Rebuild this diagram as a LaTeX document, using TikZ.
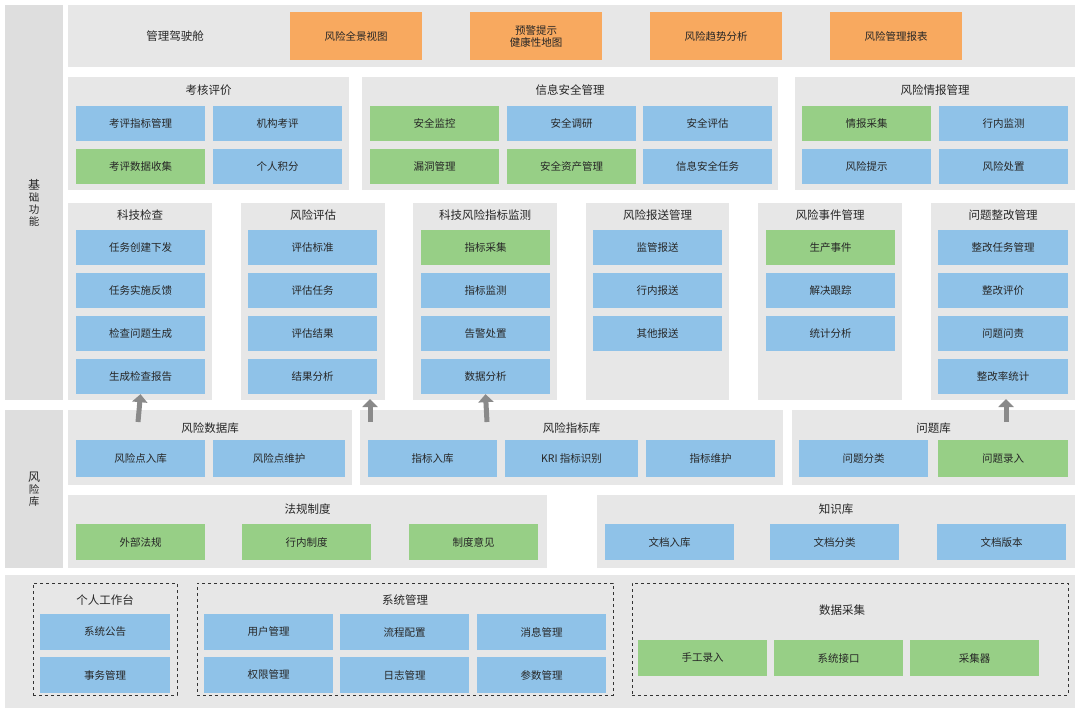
\documentclass[tikz,border=0pt]{standalone}
\usepackage{fontspec}
\setmainfont{Noto Sans CJK SC}
\usetikzlibrary{arrows.meta}
\definecolor{cblue}{HTML}{8FC2E8}
\definecolor{cgreen}{HTML}{97CF86}
\definecolor{corange}{HTML}{F8A95F}
\definecolor{cpanel}{HTML}{E7E7E7}
\definecolor{cband}{HTML}{DEDEDE}
\definecolor{carrow}{HTML}{8A8A8A}
\tikzset{
  box/.style={inner sep=0pt,align=center,font=\fontsize{10.5}{12}\selectfont,text=black!85},
  ttl/.style={font=\fontsize{11.5}{13}\selectfont,text=black!85},
  uparrow/.style={draw=carrow,line width=5pt,-{Triangle[width=15pt,length=8pt]}}
}
% #1 name, #2 x1, #3 y1, #4 x2, #5 y2, #6 color, #7 text
\newcommand{\Bx}[7]{\node[box,fill=#6,minimum width={(#4-#2)*1pt},minimum height={(#5-#3)*1pt}] (#1) at ({(#2+#4)/2},{(#3+#5)/2}) {#7};}
\newcommand{\Pn}[5]{\node[inner sep=0pt,fill=cpanel,minimum width={(#4-#2)*1pt},minimum height={(#5-#3)*1pt}] (#1) at ({(#2+#4)/2},{(#3+#5)/2}) {};}
\begin{document}
\begin{tikzpicture}[x=1pt,y=-1pt]
\useasboundingbox[fill=white] (0,0) rectangle (1080,712);
% bands
\Bx{band1}{5}{5}{63}{400}{cband}{\fontsize{12}{18}\selectfont 基\\础\\功\\能}
\Bx{band2}{5}{410}{63}{568}{cband}{\fontsize{12}{18}\selectfont 风\\险\\库}
\Pn{bottom}{5}{575}{1075}{708}
% top row
\Pn{top}{68}{5}{1075}{67}
\node[ttl] (tcap) at (175,36) {管理驾驶舱};
\Bx{o1}{290}{12}{422}{60}{corange}{风险全景视图}
\Bx{o2}{470}{12}{602}{60}{corange}{预警提示\\健康性地图}
\Bx{o3}{650}{12}{782}{60}{corange}{风险趋势分析}
\Bx{o4}{830}{12}{962}{60}{corange}{风险管理报表}
% row 2
\Pn{p1}{68}{77}{349}{190}\node[ttl] (t1) at (208.5,90) {考核评价};
\Bx{a1}{76}{106}{205}{141}{cblue}{考评指标管理}
\Bx{a2}{213}{106}{342}{141}{cblue}{机构考评}
\Bx{a3}{76}{149}{205}{184}{cgreen}{考评数据收集}
\Bx{a4}{213}{149}{342}{184}{cblue}{个人积分}
\Pn{p2}{362}{77}{778}{190}\node[ttl] (t2) at (570,90) {信息安全管理};
\Bx{b1}{370}{106}{499}{141}{cgreen}{安全监控}
\Bx{b2}{507}{106}{636}{141}{cblue}{安全调研}
\Bx{b3}{643}{106}{772}{141}{cblue}{安全评估}
\Bx{b4}{370}{149}{499}{184}{cgreen}{漏洞管理}
\Bx{b5}{507}{149}{636}{184}{cgreen}{安全资产管理}
\Bx{b6}{643}{149}{772}{184}{cblue}{信息安全任务}
\Pn{p3}{795}{77}{1075}{190}\node[ttl] (t3) at (935,90) {风险情报管理};
\Bx{c1}{802}{106}{931}{141}{cgreen}{情报采集}
\Bx{c2}{939}{106}{1068}{141}{cblue}{行内监测}
\Bx{c3}{802}{149}{931}{184}{cblue}{风险提示}
\Bx{c4}{939}{149}{1068}{184}{cblue}{风险处置}
% row 3
\Pn{q1}{68}{203}{212}{400}\node[ttl] (u1) at (140,215) {科技检查};
\Bx{d1}{76}{230}{205}{265}{cblue}{任务创建下发}
\Bx{d2}{76}{273}{205}{308}{cblue}{任务实施反馈}
\Bx{d3}{76}{316}{205}{351}{cblue}{检查问题生成}
\Bx{d4}{76}{359}{205}{394}{cblue}{生成检查报告}
\Pn{q2}{241}{203}{385}{400}\node[ttl] (u2) at (313,215) {风险评估};
\Bx{e1}{248}{230}{377}{265}{cblue}{评估标准}
\Bx{e2}{248}{273}{377}{308}{cblue}{评估任务}
\Bx{e3}{248}{316}{377}{351}{cblue}{评估结果}
\Bx{e4}{248}{359}{377}{394}{cblue}{结果分析}
\Pn{q3}{413}{203}{557}{400}\node[ttl] (u3) at (485,215) {科技风险指标监测};
\Bx{f1}{421}{230}{550}{265}{cgreen}{指标采集}
\Bx{f2}{421}{273}{550}{308}{cblue}{指标监测}
\Bx{f3}{421}{316}{550}{351}{cblue}{告警处置}
\Bx{f4}{421}{359}{550}{394}{cblue}{数据分析}
\Pn{q4}{586}{203}{729}{400}\node[ttl] (u4) at (657.5,215) {风险报送管理};
\Bx{g1}{593}{230}{722}{265}{cblue}{监管报送}
\Bx{g2}{593}{273}{722}{308}{cblue}{行内报送}
\Bx{g3}{593}{316}{722}{351}{cblue}{其他报送}
\Pn{q5}{758}{203}{902}{400}\node[ttl] (u5) at (830,215) {风险事件管理};
\Bx{h1}{766}{230}{895}{265}{cgreen}{生产事件}
\Bx{h2}{766}{273}{895}{308}{cblue}{解决跟踪}
\Bx{h3}{766}{316}{895}{351}{cblue}{统计分析}
\Pn{q6}{931}{203}{1075}{400}\node[ttl] (u6) at (1003,215) {问题整改管理};
\Bx{i1}{938}{230}{1068}{265}{cblue}{整改任务管理}
\Bx{i2}{938}{273}{1068}{308}{cblue}{整改评价}
\Bx{i3}{938}{316}{1068}{351}{cblue}{问题问责}
\Bx{i4}{938}{359}{1068}{394}{cblue}{整改率统计}
% row 4
\Pn{r1}{68}{410}{352}{485}\node[ttl] (v1) at (210,428) {风险数据库};
\Bx{j1}{76}{440}{205}{477}{cblue}{风险点入库}
\Bx{j2}{213}{440}{345}{477}{cblue}{风险点维护}
\Pn{r2}{360}{410}{783}{485}\node[ttl] (v2) at (571.5,428) {风险指标库};
\Bx{k1}{368}{440}{497}{477}{cblue}{指标入库}
\Bx{k2}{505}{440}{638}{477}{cblue}{KRI 指标识别}
\Bx{k3}{646}{440}{775}{477}{cblue}{指标维护}
\Pn{r3}{792}{410}{1075}{485}\node[ttl] (v3) at (933.5,428) {问题库};
\Bx{l1}{799}{440}{928}{477}{cblue}{问题分类}
\Bx{l2}{938}{440}{1068}{477}{cgreen}{问题录入}
% arrows
\coordinate (s1) at (138,422); \coordinate (s2) at (370,422);
\coordinate (s3) at (487,422); \coordinate (s4) at (1006,422);
\draw[uparrow] (s1) -- (d4.south);
\draw[uparrow] (s2) -- (370,399);
\draw[uparrow] (s3) -- (f4.south);
\draw[uparrow] (s4) -- (1006,399);
% row 5
\Pn{r4}{68}{495}{547}{568}\node[ttl] (v4) at (307.5,509) {法规制度};
\Bx{m1}{76}{524}{205}{560}{cgreen}{外部法规}
\Bx{m2}{242}{524}{371}{560}{cgreen}{行内制度}
\Bx{m3}{409}{524}{538}{560}{cgreen}{制度意见}
\Pn{r5}{597}{495}{1075}{568}\node[ttl] (v5) at (836,509) {知识库};
\Bx{n1}{605}{524}{734}{560}{cblue}{文档入库}
\Bx{n2}{770}{524}{899}{560}{cblue}{文档分类}
\Bx{n3}{937}{524}{1066}{560}{cblue}{文档版本}
% bottom
\node[draw=black!80,dashed,inner sep=0pt,minimum width=144pt,minimum height=112pt] (w1) at (105,639) {};
\node[ttl] (x1) at (105,600) {个人工作台};
\Bx{s11}{40}{614}{170}{650}{cblue}{系统公告}
\Bx{s12}{40}{657}{170}{693}{cblue}{事务管理}
\node[draw=black!80,dashed,inner sep=0pt,minimum width=416pt,minimum height=112pt] (w2) at (405,639) {};
\node[ttl] (x2) at (405,600) {系统管理};
\Bx{s21}{204}{614}{333}{650}{cblue}{用户管理}
\Bx{s22}{340}{614}{469}{650}{cblue}{流程配置}
\Bx{s23}{477}{614}{606}{650}{cblue}{消息管理}
\Bx{s24}{204}{657}{333}{693}{cblue}{权限管理}
\Bx{s25}{340}{657}{469}{693}{cblue}{日志管理}
\Bx{s26}{477}{657}{606}{693}{cblue}{参数管理}
\node[draw=black!80,dashed,inner sep=0pt,minimum width=436pt,minimum height=112pt] (w3) at (850,639) {};
\node[ttl] (x3) at (842,610) {数据采集};
\Bx{s31}{638}{640}{767}{676}{cgreen}{手工录入}
\Bx{s32}{774}{640}{903}{676}{cgreen}{系统接口}
\Bx{s33}{910}{640}{1039}{676}{cgreen}{采集器}
\end{tikzpicture}
\end{document}
